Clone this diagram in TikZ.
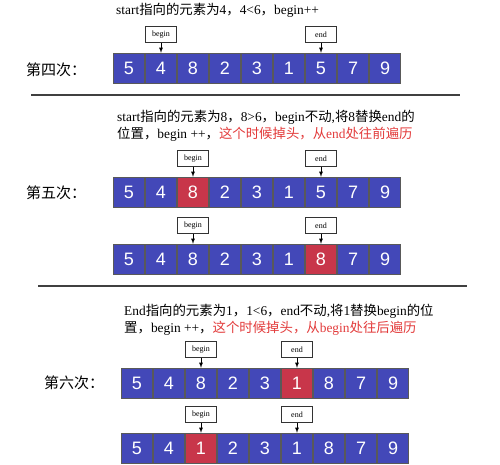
\documentclass[tikz,border=0pt]{standalone}
\usepackage{fontspec}
\setmainfont{Liberation Serif}
\setsansfont{Liberation Sans}
\newfontfamily\cjk{Noto Sans CJK SC}
\newcommand{\zh}[1]{{\cjk #1}}
\usetikzlibrary{positioning}
\definecolor{cellblue}{RGB}{67,72,184}
\definecolor{cellred}{RGB}{200,54,74}
\definecolor{hot}{RGB}{226,58,58}
\begin{document}
\begin{tikzpicture}[x=1pt,y=-1pt,
	cell/.style={draw=black!65,text=white,minimum width=31pt,minimum height=30pt,inner sep=0pt,font=\sffamily\fontsize{18}{18}\selectfont},
	ptr/.style={draw=black!80,fill=white,minimum width=31pt,minimum height=16pt,inner sep=0pt,font=\fontsize{8}{8}\selectfont},
	note/.style={anchor=west,font=\fontsize{13.4}{17}\selectfont,align=left,inner sep=0pt},
	round/.style={font=\cjk\fontsize{15}{15}\selectfont,inner sep=0pt},
	sep/.style={draw=black!75,line width=1.5pt},
	ptrarrow/.style={-latex,thick}]
	\useasboundingbox (0,0) rectangle (500,464);
	% the five array states
	\foreach \row/\x/\y/\vals/\red in {1/113/68/{5,4,8,2,3,1,5,7,9}/0,
		2/113/192/{5,4,8,2,3,1,5,7,9}/3,
		3/113/259/{5,4,8,2,3,1,8,7,9}/7,
		4/121/383/{5,4,8,2,3,1,8,7,9}/6,
		5/121/448/{5,4,1,2,3,1,8,7,9}/3}
		\foreach \v [count=\i] in \vals {
			\ifnum\i=\red \def\clr{cellred}\else\def\clr{cellblue}\fi
			\node[cell,fill=\clr] (c\row-\i) at ({\x+16+(\i-1)*32},\y) {\v};
		}
	% begin / end pointers
	\foreach \row/\b/\e in {1/2/7,2/3/7,3/3/7,4/3/6,5/3/6} {
		\node[ptr,above=10pt of c\row-\b] (b\row) {begin};
		\node[ptr,above=10pt of c\row-\e] (e\row) {end};
		\draw[ptrarrow] (b\row) -- (c\row-\b);
		\draw[ptrarrow] (e\row) -- (c\row-\e);
	}
	% notes
	\node[note] (t1) at (116,10) {start\zh{指向的元素为}4\zh{，}4<6\zh{，}begin++};
	\node[note] (t2) at (117,126) {start\zh{指向的元素为}8\zh{，}8>6\zh{，}begin\zh{不动},\zh{将}8\zh{替换}end\zh{的}\\
		\zh{位置，}begin ++\zh{，}\textcolor{hot}{\zh{这个时候掉头，从}end\zh{处往前遍历}}};
	\node[note] (t3) at (124,320) {End\zh{指向的元素为}1\zh{，}1<6\zh{，}end\zh{不动},\zh{将}1\zh{替换}begin\zh{的位}\\
		\zh{置，}begin ++\zh{，}\textcolor{hot}{\zh{这个时候掉头，从}begin\zh{处往后遍历}}};
	% round labels
	\node[round] (l4) at (56,70) {第四次：};
	\node[round] (l5) at (56,193) {第五次：};
	\node[round] (l6) at (74,383) {第六次：};
	% separators
	\draw[sep] (31,95) -- (460,95);
	\draw[sep] (38,286) -- (467,286);
\end{tikzpicture}
\end{document}
